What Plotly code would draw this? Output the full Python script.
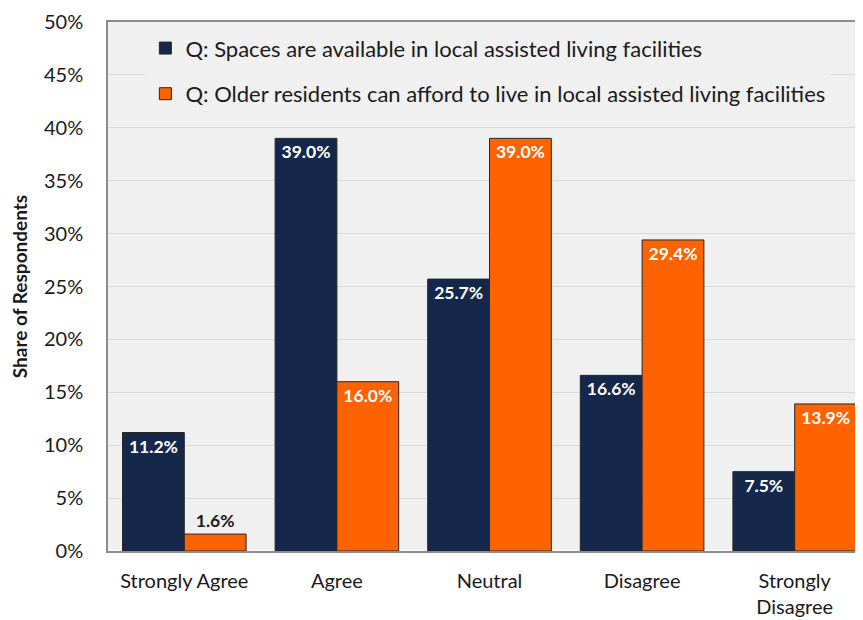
import plotly.graph_objects as go

categories = ["Strongly Agree", "Agree", "Neutral", "Disagree", "Strongly<br>Disagree"]
spaces_available = [11.2, 39.0, 25.7, 16.6, 7.5]
can_afford = [1.6, 16.0, 39.0, 29.4, 13.9]
tick_vals = [0, 5, 10, 15, 20, 25, 30, 35, 40, 45, 50]
tick_text = [f"{v}%" for v in tick_vals]

NAVY = "#15284b"
ORANGE = "#ff6200"
FONT = "Lato, 'Open Sans', sans-serif"

fig = go.Figure()
for i, (name, vals, color) in enumerate([
    ("Q: Spaces are available in local assisted living facilities", spaces_available, NAVY),
    ("Q: Older residents can afford to live in local assisted living facilities", can_afford, ORANGE),
]):
    fig.add_trace(
        go.Bar(
            x=categories,
            y=vals,
            name=name,
            legendgroup=f"g{i}",
            marker=dict(color=color, line=dict(color="#262626", width=1)),
            texttemplate="%{y:.1f}%",
            textposition="auto",
            insidetextanchor="end",
            textangle=0,
            insidetextfont=dict(color="white", size=17.5, family=FONT, weight="bold"),
            outsidetextfont=dict(color="#1a1a1a", size=17.5, family=FONT, weight="bold"),
            cliponaxis=False,
        )
    )

# page body adds 8px, so margins are offset to land the plot where the reference has it
fig.update_layout(
    width=863,
    height=620,
    margin=dict(l=100, r=0, t=14, b=77),
    paper_bgcolor="white",
    plot_bgcolor="#f0f0f0",
    barmode="group",
    bargap=0.19,
    bargroupgap=0,
    font=dict(family=FONT, size=20, color="#1a1a1a"),
    legend=dict(
        x=0.049,
        y=0.99,
        xanchor="left",
        yanchor="top",
        bgcolor="#f0f0f0",
        font=dict(size=22),
        itemwidth=30,
        tracegroupgap=14,
        traceorder="grouped",
    ),
    showlegend=True,
)
fig.update_xaxes(
    showline=True,
    linecolor="#8c8c8c",
    linewidth=1.5,
    mirror=True,
    ticks="",
    automargin=False,
    ticklabelstandoff=11,
    tickfont=dict(size=20),
)
fig.update_yaxes(
    range=[0, 50],
    tickvals=tick_vals,
    ticktext=tick_text,
    showgrid=True,
    gridcolor="#d9d9d9",
    gridwidth=1,
    showline=True,
    linecolor="#8c8c8c",
    linewidth=1.5,
    ticks="",
    automargin=False,
    ticklabelstandoff=19,
    tickfont=dict(size=20),
    title=dict(text="<b>Share of Respondents</b>", font=dict(size=19), standoff=17),
)

fig.write_html("out.html")
